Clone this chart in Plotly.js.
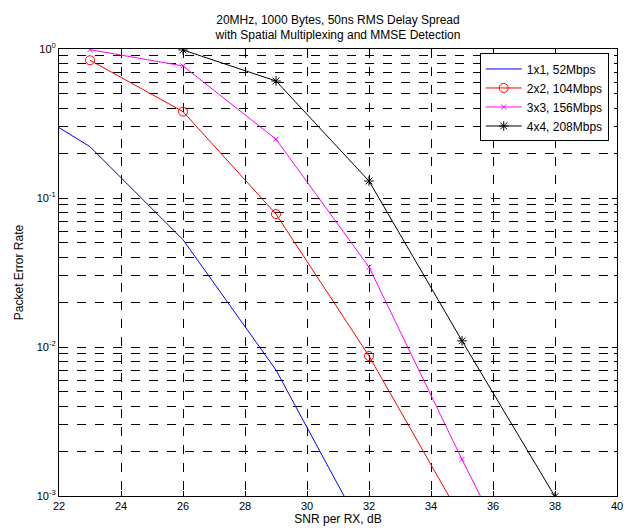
<!DOCTYPE html>
<html>
<head>
<meta charset="utf-8">
<script src="https://cdn.plot.ly/plotly-3.0.1.min.js"></script>
<style>html,body{margin:0;padding:0;background:#fff;}#chart{width:629px;height:528px;}</style>
</head>
<body>
<div id="chart"></div>
<script>
// Series data (SNR per RX in dB, packet error rate)
const snr1 = [20, 23, 26, 29, 32];
const per1 = [0.535, 0.221, 0.0525, 0.0070, 0.00049];

const snr2 = [23, 26, 29, 32, 35];
const per2 = [0.84, 0.38, 0.078, 0.0087, 0.0007];

const snr3 = [23, 26, 29, 32, 35, 38];
const per3 = [0.99, 0.77, 0.248, 0.0344, 0.00176, 0.0001];

const snr4 = [26, 29, 32, 35, 38];
const per4 = [0.985, 0.61, 0.13, 0.011, 0.00099];

const names = ['1x1, 52Mbps', '2x2, 104Mbps', '3x3, 156Mbps', '4x4, 208Mbps'];

const xTicks = [22, 24, 26, 28, 30, 32, 34, 36, 38, 40];
const decades = [0.001, 0.01, 0.1, 1];
const decadeLabels = ['10<sup>-3</sup>', '10<sup>-2</sup>', '10<sup>-1</sup>', '10<sup>0</sup>'];
const mantissas = [2, 3, 4, 5, 6, 7, 8, 9];

// minor grid positions between decades
const yMinorVals = [];
decades.slice(0, 3).forEach(d => {
  mantissas.forEach(m => yMinorVals.push(+(d * m).toPrecision(3)));
});

const font = 'Arial, "Liberation Sans", Helvetica, sans-serif';

const traces = [
  {x: snr1, y: per1, name: names[0], mode: 'lines', line: {color: '#0000ff', width: 1}},
  {x: snr2, y: per2, name: names[1], mode: 'lines+markers', line: {color: '#ff0000', width: 1},
   marker: {symbol: 'circle-open', size: 9, color: '#ff0000', line: {width: 1, color: '#ff0000'}}},
  {x: snr3, y: per3, name: names[2], mode: 'lines+markers', line: {color: '#ff00ff', width: 1},
   marker: {symbol: 'x-thin-open', size: 5, color: '#ff00ff', line: {width: 1, color: '#ff00ff'}}},
  {x: snr4, y: per4, name: names[3], mode: 'lines+markers', line: {color: '#000000', width: 1},
   marker: {symbol: 'asterisk-open', size: 8, color: '#000000', line: {width: 1, color: '#000000'}}}
];

const layout = {
  width: 629, height: 528, autosize: false,
  margin: {l: 59, r: 12, t: 49, b: 32, pad: 0},
  paper_bgcolor: '#ffffff', plot_bgcolor: '#ffffff',
  font: {family: font, size: 11, color: '#000'},
  title: {
    text: '20MHz, 1000 Bytes, 50ns RMS Delay Spread<br>with Spatial Multiplexing and MMSE Detection',
    font: {family: font, size: 12, color: '#000'},
    x: 0.5, xref: 'paper', xanchor: 'center',
    y: 0.955, yref: 'container', yanchor: 'middle'
  },
  showlegend: true,
  legend: {
    x: 0.754, y: 0.99, xanchor: 'left', yanchor: 'top',
    bgcolor: '#ffffff', bordercolor: '#000', borderwidth: 1,
    font: {family: font, size: 12, color: '#000'},
    tracegroupgap: 0, itemwidth: 36
  },
  xaxis: {
    type: 'linear', range: [22, 40], autorange: false,
    tickvals: xTicks, ticktext: xTicks.map(String),
    ticks: 'inside', ticklen: 5, tickwidth: 1, tickcolor: '#000',
    showline: true, linecolor: '#000', linewidth: 1, mirror: 'allticks',
    showgrid: true, gridcolor: '#000', gridwidth: 1, griddash: 'dash',
    zeroline: false,
    tickfont: {family: font, size: 11, color: '#000'},
    title: {text: 'SNR per RX, dB', font: {family: font, size: 12, color: '#000'}, standoff: 2}
  },
  yaxis: {
    type: 'log', range: [-3, 0], autorange: false,
    tickmode: 'array', tickvals: decades, ticktext: decadeLabels,
    ticks: 'inside', ticklen: 5, tickwidth: 1, tickcolor: '#000',
    showline: true, linecolor: '#000', linewidth: 1, mirror: 'allticks',
    showgrid: true, gridcolor: '#000', gridwidth: 1, griddash: 'dash',
    minor: {
      tickmode: 'array', tickvals: yMinorVals,
      ticks: 'inside', ticklen: 3, tickwidth: 1, tickcolor: '#000',
      showgrid: true, gridcolor: '#000', gridwidth: 1, griddash: 'dash'
    },
    zeroline: false,
    tickfont: {family: font, size: 11, color: '#000'},
    title: {text: 'Packet Error Rate', font: {family: font, size: 12, color: '#000'}, standoff: 10}
  }
};

Plotly.newPlot('chart', traces, layout, {staticPlot: true, displayModeBar: false});
</script>
</body>
</html>
